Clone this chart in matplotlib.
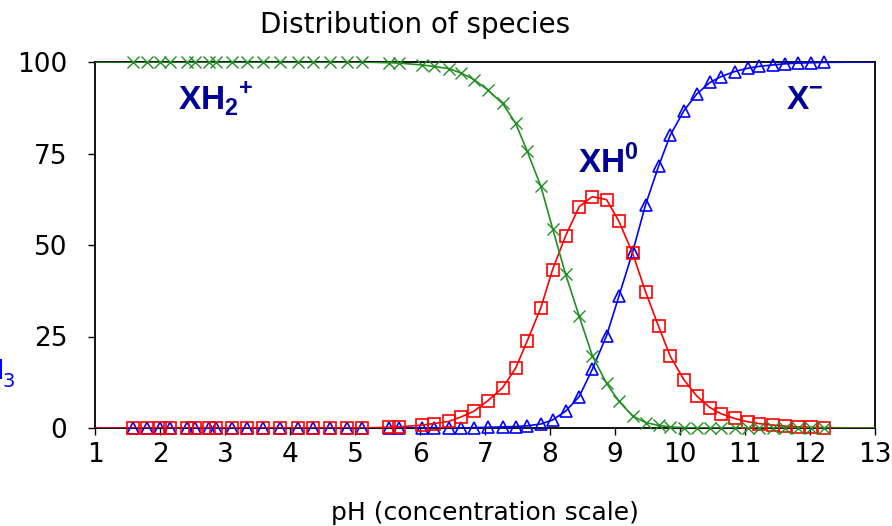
import matplotlib
matplotlib.use("Agg")
import matplotlib.pyplot as plt

plt.rcParams['mathtext.fontset'] = 'custom'
plt.rcParams['mathtext.rm'] = 'Liberation Sans'
plt.rcParams['mathtext.bf'] = 'Liberation Sans:bold'

# DATA
ph = [1.59, 1.80, 2.00, 2.16, 2.41, 2.54, 2.75, 2.86, 3.11, 3.34, 3.59, 3.85,
      4.13, 4.36, 4.62, 4.88, 5.11, 5.52, 5.67, 6.03, 6.21, 6.44, 6.63, 6.83,
      7.04, 7.27, 7.47, 7.65, 7.86, 8.04, 8.24, 8.45, 8.65, 8.87, 9.06, 9.27,
      9.47, 9.67, 9.85, 10.06, 10.26, 10.46, 10.63, 10.84, 11.04, 11.22, 11.43,
      11.61, 11.81, 12.02, 12.22]

xh2 = [100, 100, 100, 100, 100, 100, 100, 100, 100, 100, 100, 100,
       100, 100, 100, 100, 100, 99.8, 99.7, 99.2, 98.8, 98.2, 97.0, 95.2,
       92.4, 88.7, 83.3, 75.6, 66.0, 54.5, 42.0, 30.5, 19.8, 12.2, 7.3, 3.3,
       1.5, 0.7, 0.3, 0.1, 0, 0, 0, 0, 0, 0, 0,
       0, 0, 0, 0]

xh = [0, 0, 0, 0, 0, 0, 0, 0, 0, 0, 0, 0,
      0, 0, 0, 0, 0, 0.2, 0.3, 0.8, 1.2, 1.8, 3.0, 4.6,
      7.4, 11.0, 16.3, 23.8, 32.9, 43.3, 52.5, 60.5, 63.2, 62.4, 56.5, 47.8,
      37.2, 27.8, 19.6, 13.2, 8.7, 5.6, 3.9, 2.6, 1.7, 1.2, 0.8,
      0.5, 0.3, 0.2, 0.1]

xm = [0, 0, 0, 0, 0, 0, 0, 0, 0, 0, 0, 0,
      0, 0, 0, 0, 0, 0, 0, 0, 0, 0, 0, 0.1,
      0.2, 0.3, 0.4, 0.6, 1.1, 2.2, 4.6, 8.6, 16.0, 25.2, 36.0, 48.0,
      61.0, 71.5, 80.0, 86.7, 91.3, 94.4, 96.0, 97.4, 98.3, 98.8, 99.2,
      99.5, 99.7, 99.8, 99.9]

# curves run across the whole pH axis
ph_line = [1.0] + ph + [13.0]
xh2_line = [100] + xh2 + [0]
xh_line = [0] + xh + [0]
xm_line = [0] + xm + [100]

GREEN = '#228f22'
RED = '#ff0000'
BLUE = '#0000ff'
NAVY = '#000099'

fig = plt.figure(figsize=(8.92, 5.26), dpi=100)
ax = fig.add_axes([95 / 892, 98 / 526, 780 / 892, 366 / 526])

ax.plot(ph_line, xm_line, color=BLUE, lw=1.2, zorder=3)
ax.plot(ph, xm, ls='none', marker='^', ms=8, mfc='none', mec=BLUE, mew=1.2,
        clip_on=False, zorder=3)
ax.plot(ph_line, xh_line, color=RED, lw=1.2, zorder=4)
ax.plot(ph, xh, ls='none', marker='s', ms=8, mfc='none', mec=RED, mew=1.2,
        clip_on=False, zorder=4)
ax.plot(ph_line, xh2_line, color=GREEN, lw=1.2, zorder=5)
ax.plot(ph, xh2, ls='none', marker='x', ms=8, mec=GREEN, mew=1.0,
        clip_on=False, zorder=5)

# DESIGN
ax.set_xlim(1, 13)
ax.set_ylim(0, 100)
ax.set_xticks(range(1, 14))
ax.set_yticks([0, 25, 50, 75, 100])
ax.tick_params(direction='out', length=5, width=1, labelsize=19)
ax.tick_params(axis='x', pad=5)
ax.tick_params(axis='y', pad=15)
for spine in ax.spines.values():
    spine.set_linewidth(1.3)
    spine.set_zorder(2)
ax.set_xlabel("pH (concentration scale)", fontsize=18, labelpad=24)

fig.text(415 / 892, 1 - 25 / 526, "Distribution of species", ha='center', va='center',
         fontsize=20)

# SPECIES LABELS
lab = dict(fontsize=24, fontweight='bold', color=NAVY, family='Liberation Sans',
           ha='left', va='baseline')
fig.text(178 / 892, 1 - 109 / 526, r"XH$_\mathbf{2}$$^\mathbf{+}$", **lab)
fig.text(578 / 892, 1 - 173 / 526, r"XH$^\mathbf{0}$", **lab)
fig.text(786 / 892, 1 - 109 / 526, r"X$^\mathbf{-}$", **lab)

# label cut by the left edge, as in the source
fig.text(5 / 892, 1 - 379 / 526, "NH", ha='right', va='baseline', fontsize=19,
         color=BLUE)
fig.text(2 / 892, 1 - 387 / 526, "3", ha='left', va='baseline', fontsize=14,
         color=BLUE)

fig.savefig("out.png", dpi=100)
